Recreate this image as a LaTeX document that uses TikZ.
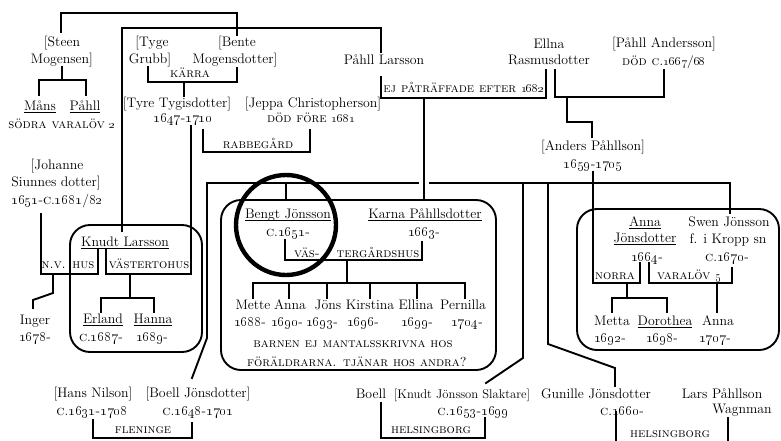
\documentclass[tikz,border=0pt]{standalone}
\usetikzlibrary{calc}
\newcommand\osn[1]{\oldstylenums{#1}}
\newcommand\ca{\textsc{c}.}
\tikzset{
  nm/.style={inner sep=0pt, outer sep=0pt, anchor=base, font=\fontsize{13.8}{16}\selectfont},
  nmsm/.style={nm, font=\fontsize{12.6}{15}\selectfont},
  lb/.style={inner sep=0pt, outer sep=0pt, anchor=base, font=\fontsize{13}{15}\selectfont\scshape},
  ln/.style={line width=1.9pt, line cap=rect},
  bx/.style={line width=1.9pt, rounded corners=20pt},
  ulline/.style={line width=1.1pt},
  ring/.style={line width=4.4pt}
}
\begin{document}
\begin{tikzpicture}[x=1pt,y=-1pt]
\useasboundingbox (0,0) rectangle (781,440);
\clip (0,0) rectangle (781,440);
% ---------- nodes ----------
\node[nm] (steen1) at (62,46) {[Steen};
\node[nm] (steen2) at (62,63) {Mogensen]};
\node[nm] (mans) at (40,110) {Måns};
\node[nm] (pahll) at (85,110) {Påhll};
\node[lb] (sodra) at (62,128) {södra varalöv \osn{2}};
\node[nm] (tyge1) at (152,46) {[Tyge};
\node[nm] (tyge2) at (150,63) {Grubb]};
\node[nm] (bente1) at (237,46) {[Bente};
\node[nm] (bente2) at (235,63) {Mogensdotter]};
\node[lb] (karra) at (190,77) {kärra};
\node[nm] (tyre) at (177,107) {[Tyre Tygisdotter]};
\node[nm] (jeppa) at (313,107) {[Jeppa Christopherson]};
\node[nm] (tyreyr) at (183,122) {\osn{1647}-\osn{1710}};
\node[lb] (dodfore) at (311,122) {död före \osn{1681}};
\node[lb] (rabbe) at (258,148) {rabbegård};
\node[nm] (plarsson) at (384,64) {Påhll Larsson};
\node[lb] (ej) at (464,92) {ej påträffade efter \osn{1682}};
\node[nm] (ellna1) at (549,48) {Ellna};
\node[nm] (ellna2) at (549,64) {Rasmusdotter};
\node[nm] (pand) at (664,47) {[Påhll Andersson]};
\node[lb] (dodc) at (664,65) {död c.\osn{1667}/\osn{68}};
\node[nm] (anders1) at (593,150) {[Anders Påhllson]};
\node[nm] (anders2) at (593,168) {\osn{1659}-\osn{1705}};
\node[nm] (joh1) at (57,169) {[Johanne};
\node[nm] (joh2) at (56,186) {Siunnes dotter]};
\node[nm] (joh3) at (57,204) {\osn{1651}-\ca\osn{1681}/\osn{82}};
% left box
\node[nm] (knudt) at (125,246) {Knudt Larsson};
\node[lb] (nvhus) at (68,268) {n.v. hus};
\node[lb] (vaster) at (149,268) {västertohus};
\node[nm] (inger1) at (35,324) {Inger};
\node[nm] (inger2) at (35,341) {\osn{1678}-};
\node[nm] (erland) at (103,323) {Erland};
\node[nm] (hanna) at (153,323) {Hanna};
\node[nm] (erlyr) at (101,341) {\ca\osn{1687}-};
\node[nm] (hanyr) at (152,341) {\osn{1689}-};
% middle box
\node[nm] (bengt) at (288,218) {Bengt Jönsson};
\node[nm] (bengtyr) at (288,236) {\ca\osn{1651}-};
\node[nm] (karna) at (425,218) {Karna Påhllsdotter};
\node[nm] (karnayr) at (424,236) {\osn{1663}-};
\node[lb] (vas1) at (307,257) {väs-};
\node[lb] (vas2) at (378,257) {tergårdshus};
\node[nm] (mette) at (253,309) {Mette};
\node[nm] (annab) at (290,309) {Anna};
\node[nm] (jons) at (328,309) {Jöns};
\node[nm] (kirst) at (370,309) {Kirstina};
\node[nm] (ellina) at (416,309) {Ellina};
\node[nm] (pern) at (463,309) {Pernilla};
\node[nm] (metteyr) at (250,326) {\osn{1688}-};
\node[nm] (annabyr) at (287,326) {\osn{1690}-};
\node[nm] (jonsyr) at (322,326) {\osn{1693}-};
\node[nm] (kirstyr) at (363,326) {\osn{1696}-};
\node[nm] (ellinayr) at (417,326) {\osn{1699}-};
\node[nm] (pernyr) at (467,326) {\osn{1704}-};
\node[lb] (barn1) at (353,347) {barnen ej mantalsskrivna hos};
\node[lb] (barn2) at (357,366) {föräldrarna. tjänar hos andra?};
% right box
\node[nm] (anna1) at (645,226) {Anna};
\node[nm] (anna2) at (645,242) {Jönsdotter};
\node[nm] (annayr) at (647,261) {\osn{1664}-};
\node[nm] (swen1) at (729,226) {Swen Jönsson};
\node[nm] (swen2) at (728,243) {f. i Kropp sn};
\node[nm] (swenyr) at (727,261) {\ca\osn{1670}-};
\node[lb] (norra) at (615,279) {norra};
\node[lb] (varalov) at (689,279) {varalöv \osn{5}};
\node[nm] (metta) at (612,325) {Metta};
\node[nm] (doro) at (665,325) {Dorothea};
\node[nm] (anna3) at (718,325) {Anna};
\node[nm] (mettayr) at (610,342) {\osn{1692}-};
\node[nm] (doroyr) at (662,342) {\osn{1698}-};
\node[nm] (anna3yr) at (715,342) {\osn{1707}-};
% bottom
\node[nm] (hans) at (93,397) {[Hans Nilson]};
\node[nm] (boellj) at (198,397) {[Boell Jönsdotter]};
\node[nm] (hansyr) at (92,415) {\ca\osn{1631}-\osn{1708}};
\node[nm] (boelljyr) at (198,415) {\ca\osn{1648}-\osn{1701}};
\node[lb] (flen) at (143,433) {fleninge};
\node[nm] (boell) at (371,398) {Boell};
\node[nmsm] (kjs) at (462,398) {[Knudt Jönsson Slaktare]};
\node[nm] (kjsyr) at (473,415) {\ca\osn{1653}-\osn{1699}};
\node[lb] (hels1) at (431,433) {helsingborg};
\node[nm] (gun) at (596,398) {Gunille Jönsdotter};
\node[nm] (gunyr) at (622,415) {\ca\osn{1660}-};
\node[nm] (lars1) at (722,398) {Lars Påhllson};
\node[nm] (lars2) at (742,413) {Wagnman};
\node[lb] (hels2) at (670,437.5) {helsingborg};
% underlines
\foreach \n in {mans,pahll,knudt,erland,hanna,bengt,karna,anna1,anna2,doro}
  \draw[ulline] ([yshift=-2.6pt]\n.base west) -- ([yshift=-2.6pt]\n.base east);
% ---------- boxes ----------
\draw[bx] (221,200) rectangle (496,370);
\draw[bx] (70,225) rectangle (202,352);
\draw[bx] (577,209) rectangle (779,350);
\draw[ring] (286,225) circle[radius=50];
% ---------- connectors ----------
\draw[ln] (61,32) |- (237,13) -- (237,35);
\draw[ln] (122,231) |- (381,28) -- (381,52);
\draw[ln] (62,67) -- (62,80);
\draw[ln] (39,95) |- (86,80) -- (86,95);
\draw[ln] (148,67) |- (237,82) -- (237,68);
\draw[ln] (184,82) -- (184,96);
\draw[ln] (191,126) -- (191,274) -- (106,274) -- (106,250);
\draw[ln] (203,130) |- (310,152) -- (310,130);
\draw[ln] (381,77) |- (546,98) -- (546,70);
\draw[ln] (424,98) -- (424,200);
\draw[ln] (555,70) |- (664,97) -- (664,70);
\draw[ln] (567,97) |- (592,122) -- (592,137);
\draw[ln] (192,378) -- (207,338) -- (207,183) -- (418,183);
\draw[ln] (430,183) -- (730,183) -- (730,213);
\draw[ln] (286,183) -- (286,200);
\draw[ln] (523,183) -- (523,358) -- (486,383);
\draw[ln] (548,183) -- (548,344) -- (615,368) -- (615,386);
\draw[ln] (593,172) -- (593,283) -- (640,283) -- (640,263);
\draw[ln] (649,263) |- (732,283) -- (732,268);
\draw[ln] (627,283) -- (627,298);
\draw[ln] (612,312) |- (667,298) -- (667,312);
\draw[ln] (717,283) -- (717,312);
\draw[ln] (41,214) |- (98,274) -- (98,250);
\draw[ln] (53,274) -- (53,293) -- (33,300) -- (33,308);
\draw[ln] (130,274) -- (130,298);
\draw[ln] (101,312) |- (154,298) -- (154,312);
\draw[ln] (285,240) |- (422,260) -- (422,242);
\draw[ln] (347,260) -- (347,283);
\draw[ln] (253,298) |- (465,283) -- (465,298);
\foreach \xx in {289,327,370,417} \draw[ln] (\xx,283) -- (\xx,298);
\draw[ln] (93,420) |- (192,438) -- (192,423);
\draw[ln] (381,403) |- (485,438) -- (485,418);
\draw[ln] (616,412) |- (728,446) -- (728,418);
\end{tikzpicture}
\end{document}
